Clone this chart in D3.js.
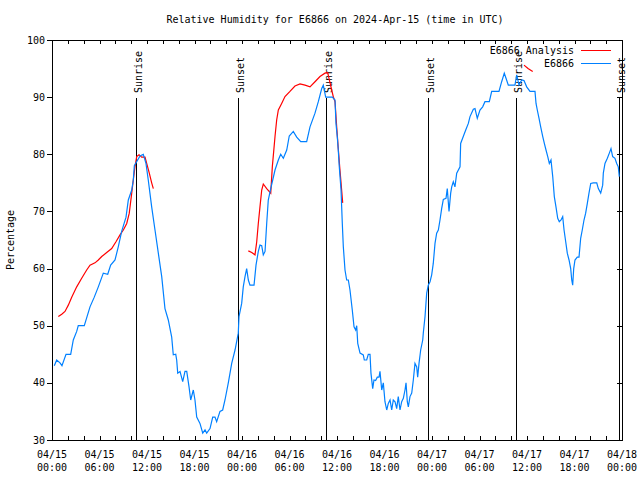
<!DOCTYPE html>
<html>
<head>
<meta charset="utf-8">
<script src="https://cdn.jsdelivr.net/npm/d3@7"></script>
<style>
  html, body { margin: 0; padding: 0; background: #fff; }
  text { font-family: "DejaVu Sans Mono", "Liberation Mono", monospace; font-size: 10px; fill: #000; }
</style>
</head>
<body>
<svg id="chart" width="640" height="480"></svg>
<script>
// ---- data (hours since 2024-04-15 00:00 UTC, relative humidity %) ----
const stationHours = [0.29,0.59,1.01,1.26,1.77,2.36,2.69,3.12,3.32,4.08,4.80,5.34,5.85,6.48,7.04,7.41,7.96,8.37,8.80,9.35,9.64,10.07,10.27,10.40,11.12,11.53,11.87,12.16,12.59,13.01,13.43,13.86,14.27,14.69,15.12,15.32,15.63,15.75,15.88,16.17,16.51,16.80,17.02,17.31,17.52,17.85,18.06,18.28,18.69,19.04,19.33,19.54,19.96,20.30,20.59,20.80,21.22,21.56,21.85,22.27,22.70,23.12,23.53,23.62,23.96,24.16,24.38,24.59,24.80,25.01,25.52,25.77,26.06,26.27,26.49,26.69,26.91,27.12,27.32,27.63,27.88,28.17,28.59,28.89,29.22,29.65,29.97,30.48,30.91,31.42,32.17,32.59,33.22,33.64,34.07,34.27,34.57,34.90,35.41,35.75,35.87,36.04,36.16,36.29,36.51,36.67,36.80,37.01,37.22,37.43,37.64,37.93,38.15,38.36,38.49,38.62,38.91,39.32,39.45,39.75,39.95,40.17,40.29,40.51,40.67,40.88,41.09,41.31,41.43,41.65,41.85,42.06,42.28,42.48,42.70,42.91,43.11,43.33,43.54,43.74,43.96,44.17,44.38,44.59,44.72,44.88,45.01,45.22,45.44,45.64,45.85,46.07,46.19,46.36,46.57,46.83,46.90,47.12,47.33,47.53,47.75,47.96,48.16,48.38,48.59,48.80,49.01,49.22,49.43,49.77,49.93,50.15,50.36,50.49,50.69,50.90,51.12,51.54,51.62,51.95,52.26,52.59,52.80,53.22,53.43,53.72,54.06,54.40,54.69,55.24,55.54,56.46,56.80,57.13,57.35,57.64,58.48,58.70,58.99,59.33,59.62,59.96,60.38,61.01,61.14,61.30,61.52,61.73,61.99,62.19,62.40,62.62,62.82,63.03,63.25,63.45,63.66,63.88,64.08,64.30,64.51,64.68,64.89,65.09,65.31,65.52,65.65,65.77,65.90,66.06,66.35,66.57,66.78,66.98,67.20,67.41,67.62,67.83,68.05,68.38,68.81,69.01,69.31,69.56,69.64,69.85,70.15,70.40,70.61,70.82,71.11,71.33,71.53,71.66];
const stationValues = [43,44,43.5,43,45,45,47.5,49,50,50,53.3,55,56.8,59.2,59,60.6,61.5,63.8,66.5,69,72,73.75,75.5,78,79.7,80,78.4,75.5,70.8,66.75,62.7,58.6,53,51,48,44.9,45,44,41.7,42,40.2,42,42,39.3,37,38.75,37,34,32.9,31.2,31.75,31.2,32,34,34,33.2,35,35.25,37,40,43.4,45.75,48.7,51.6,53.9,56.8,58.6,60,58,57.1,57.1,60.6,63,64.1,64,62.4,63,67.9,72,74,75.5,77.25,79,80,79.3,80.75,83.2,84,83,82.2,82.2,84.8,87.2,89.2,91.5,92.1,90,90,90,89.5,85.4,83,80.75,77.8,73.75,67.9,63.8,59.75,58,58,56.25,52.75,49.8,49.25,50,46.9,45.2,44.9,44,44,45,45,41.7,39,40.5,40.4,41,41,42,38.75,40,36.7,35.25,36.4,37,35.25,37,36.7,35.5,37.6,35.25,36.7,37.3,38.75,40,36.7,35.8,37.6,38.2,40.5,43.4,42.8,41,43.4,45.75,47.5,48.7,51.6,55.7,57.1,57.7,58.9,60.9,64.4,66.2,66.75,68.5,70.5,72.1,72.3,74,70,73.2,74.3,75.2,74.3,76.7,77.8,81.9,83.1,84.25,85.4,86.6,87.9,88,86.3,87.75,88.3,89.2,89.2,91,91,92.7,94.2,93.3,92.1,92.1,93.9,92.1,93,92.9,91.8,91,91,88.9,87.75,86.3,84.8,83.1,81.9,80.75,79.6,78.4,79,76.1,72.6,70.8,68.8,68.2,68.5,69.1,66.75,64.7,62.7,61.5,60,58,57.1,60,61.5,62,62,65.3,66.75,68.5,69.7,71.4,73.2,74.9,75,75,74,73.2,74.6,76.7,78.4,79.3,80.2,81,79.6,79.3,78.4,77.8,76.1];

// analysis series; null marks a gap in the line
const analysisHours = [0.80,1.23,1.64,2.06,2.49,3.12,3.75,4.38,4.80,5.43,5.85,6.28,6.91,7.54,8.08,8.59,9.01,9.44,9.76,10.07,10.27,10.48,10.70,10.99,11.33,11.75,11.96,12.29,12.59,12.80,
  18.0,
  24.80,25.23,25.64,25.86,26.06,26.27,26.49,26.69,27.12,27.63,27.83,28.17,28.38,28.59,29.01,29.43,30.06,30.69,31.33,31.96,32.59,33.22,33.85,34.48,34.82,34.99,35.33,35.53,35.75,35.96,36.16,36.34,36.51,36.72,
  48.0,
  59.62,60.13,60.72];
const analysisValues = [51.6,52,52.5,53.6,55,56.8,58.3,59.75,60.6,61,61.5,62.1,62.8,63.5,64.7,65.9,66.75,67.9,69.7,73.2,75.5,77.8,79.6,79.9,79.5,79.5,78.4,76.7,75,74,
  null,
  63.1,62.8,62.4,64.7,67.9,70.8,73.75,74.8,74,73.2,77.8,83.1,86,87.75,88.9,90.1,91,91.95,92.3,92.1,91.8,92.7,93.6,94.2,94.3,93.3,91.25,90.1,89.2,84.8,81,77.8,75,71.5,
  null,
  95.6,95.0,94.5];

const eventHours = [10.65, 23.53, 34.57, 47.53, 58.57, 71.58];
const eventLabels = ["Sunrise", "Sunset", "Sunrise", "Sunset", "Sunrise", "Sunset"];

const xMajorHours = [0, 6, 12, 18, 24, 30, 36, 42, 48, 54, 60, 66, 72];
const xTickDates = ["04/15","04/15","04/15","04/15","04/16","04/16","04/16","04/16","04/17","04/17","04/17","04/17","04/18"];
const xTickTimes = ["00:00","06:00","12:00","18:00","00:00","06:00","12:00","18:00","00:00","06:00","12:00","18:00","00:00"];
const yTicks = [30, 40, 50, 60, 70, 80, 90, 100];

const titleText = "Relative Humidity for E6866 on 2024-Apr-15 (time in UTC)";
const yLabelText = "Percentage";
const seriesNames = ["E6866 Analysis", "E6866"];
const seriesColors = ["#ff0000", "#0080ff"];

// ---- drawing ----
const svg = d3.select("#chart");
const L = 52, R = 622, T = 40, B = 440;
const x = d3.scaleLinear().domain([0, 72]).range([L, R]);
const y = d3.scaleLinear().domain([30, 100]).range([B, T]);

svg.append("rect").attr("width", 640).attr("height", 480).attr("fill", "#fff");

// title
svg.append("text").attr("x", 335).attr("y", 23).attr("text-anchor", "middle").text(titleText);
// y label
svg.append("text").attr("transform", "translate(14,240) rotate(-90)").attr("text-anchor", "middle").text(yLabelText);

// sunrise / sunset lines
const ev = svg.append("g");
eventHours.forEach((h, i) => {
  const px = Math.round(x(h)) + 0.5;
  ev.append("line").attr("x1", px).attr("x2", px).attr("y1", 98).attr("y2", B)
    .attr("stroke", "#000").attr("stroke-width", 1).attr("shape-rendering", "crispEdges");
  ev.append("text").attr("transform", `translate(${px + 1.5},93) rotate(-90)`)
    .attr("text-anchor", "start").attr("dy", "0.35em").text(eventLabels[i]);
});

// series
const analysisData = analysisHours.map((h, i) => ({h, v: analysisValues[i]}));
const stationData = stationHours.map((h, i) => ({h, v: stationValues[i]}));
const line = d3.line().defined(d => d.v !== null).x(d => x(d.h)).y(d => y(d.v));
svg.append("path").datum(analysisData).attr("d", line).attr("fill", "none")
  .attr("stroke", seriesColors[0]).attr("stroke-width", 1.2);
svg.append("path").datum(stationData).attr("d", line).attr("fill", "none")
  .attr("stroke", seriesColors[1]).attr("stroke-width", 1.2);

// axes
const xMinor = d3.range(0, 73, 2);
const gB = svg.append("g").attr("transform", `translate(0,${B})`)
  .call(d3.axisBottom(x).tickValues(xMinor).tickSize(-4).tickFormat(""));
const gT = svg.append("g").attr("transform", `translate(0,${T})`)
  .call(d3.axisTop(x).tickValues(xMinor).tickSize(-4).tickFormat(""));
const gL = svg.append("g").attr("transform", `translate(${L},0)`)
  .call(d3.axisLeft(y).tickValues(yTicks).tickSize(5).tickFormat(""));
const gR = svg.append("g").attr("transform", `translate(${R},0)`)
  .call(d3.axisRight(y).tickValues(yTicks).tickSize(-5).tickFormat(""));
[gB, gT, gL, gR].forEach(g => {
  g.selectAll(".domain").remove();
  g.selectAll("line").attr("stroke", "#000").attr("shape-rendering", "crispEdges");
});
// border
svg.append("rect").attr("x", L + 0.5).attr("y", T + 0.5).attr("width", R - L).attr("height", B - T)
  .attr("fill", "none").attr("stroke", "#000").attr("shape-rendering", "crispEdges");

// x tick labels
const xl = svg.append("g");
xMajorHours.forEach((h, i) => {
  const t = xl.append("text").attr("x", x(h)).attr("text-anchor", "middle");
  t.append("tspan").attr("x", x(h)).attr("y", 458).text(xTickDates[i]);
  t.append("tspan").attr("x", x(h)).attr("y", 471).text(xTickTimes[i]);
});
// y tick labels
svg.append("g").selectAll("text").data(yTicks).join("text")
  .attr("x", 45).attr("y", d => y(d)).attr("dy", "0.35em").attr("text-anchor", "end").text(d => d);

// legend
seriesNames.forEach((n, i) => {
  const ly = 50 + i * 13;
  svg.append("text").attr("x", 574).attr("y", ly).attr("dy", "0.35em").attr("text-anchor", "end").text(n);
  svg.append("line").attr("x1", 581).attr("x2", 611).attr("y1", ly + 0.5).attr("y2", ly + 0.5)
    .attr("stroke", seriesColors[i]).attr("stroke-width", 1).attr("shape-rendering", "crispEdges");
});
</script>
</body>
</html>
